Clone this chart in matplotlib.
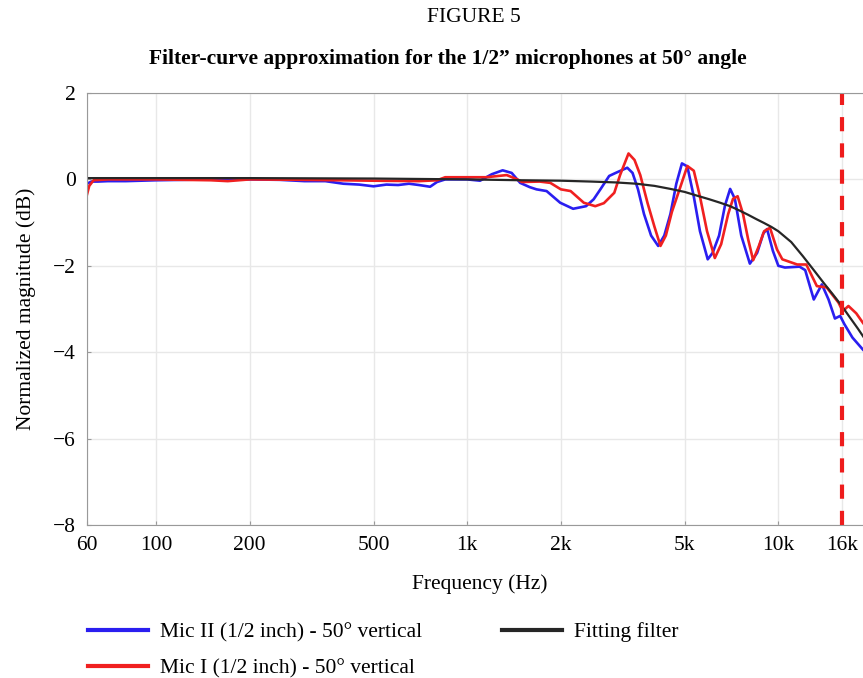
import matplotlib
matplotlib.use("Agg")
import matplotlib.pyplot as plt

plt.rcParams['font.family'] = ['Liberation Serif', 'DejaVu Serif']
plt.rcParams['font.size'] = 15.5

# measured response, Mic II (1/2 inch), 50 deg vertical
blue_f = [60, 62, 65, 70, 80, 100, 150, 200, 250, 300, 350, 400, 450, 500, 550,
          600, 650, 700, 760, 800, 850, 1000, 1100, 1200, 1300, 1390, 1480, 1590,
          1670, 1800, 1990, 2190, 2410, 2550, 2680, 2860, 3000, 3270, 3400, 3540,
          3700, 3900, 4110, 4300, 4500, 4700, 4900, 5100, 5350, 5600, 5930, 6150,
          6450, 6740, 7000, 7250, 7600, 8100, 8550, 8950, 9200, 9600, 10000, 10500,
          11700, 12200, 13000, 13800, 14500, 15200, 15800, 16300, 17300, 18700, 20000]
blue_db = [-0.10, -0.05, -0.05, -0.04, -0.04, -0.02, 0.0, 0.0, -0.01, -0.04, -0.04,
           -0.10, -0.12, -0.16, -0.12, -0.13, -0.10, -0.13, -0.17, -0.06, 0.0, 0.0,
           -0.03, 0.12, 0.21, 0.15, -0.08, -0.18, -0.23, -0.27, -0.54, -0.68, -0.62,
           -0.46, -0.23, 0.08, 0.15, 0.27, 0.15, -0.23, -0.80, -1.30, -1.54, -1.30,
           -0.80, -0.10, 0.37, 0.30, -0.40, -1.20, -1.85, -1.70, -1.30, -0.60, -0.22,
           -0.45, -1.30, -1.95, -1.70, -1.25, -1.15, -1.65, -2.00, -2.04, -2.02, -2.10,
           -2.78, -2.43, -2.78, -3.22, -3.16, -3.35, -3.66, -3.94, -4.15]

# measured response, Mic I (1/2 inch), 50 deg vertical
red_f = [60, 61, 63, 70, 100, 150, 170, 200, 300, 500, 700, 800, 850, 1000, 1150,
         1340, 1450, 1500, 1710, 1850, 2000, 2150, 2370, 2580, 2750, 2970, 3100,
         3300, 3450, 3600, 3800, 4000, 4180, 4350, 4550, 4830, 5100, 5350, 5600,
         5900, 6250, 6550, 6900, 7150, 7400, 7700, 8000, 8300, 8650, 9000, 9400,
         9900, 10300, 11500, 12300, 13300, 14300, 15600, 16100, 16800, 17800, 18700,
         20000]
red_db = [-0.35, -0.15, -0.02, 0.0, 0.0, -0.02, -0.04, 0.0, -0.01, -0.03, -0.04,
          -0.02, 0.05, 0.05, 0.05, 0.10, 0.0, -0.06, -0.05, -0.08, -0.23, -0.27,
          -0.54, -0.62, -0.55, -0.31, 0.10, 0.60, 0.45, 0.10, -0.55, -1.10, -1.54,
          -1.30, -0.75, -0.20, 0.31, 0.20, -0.40, -1.20, -1.82, -1.50, -0.80, -0.45,
          -0.39, -0.80, -1.39, -1.87, -1.55, -1.20, -1.12, -1.62, -1.85, -1.97, -1.97,
          -2.47, -2.50, -2.85, -3.05, -2.93, -3.10, -3.32, -3.60]

# fitted low-pass filter
fit_f = [60, 100, 200, 500, 1000, 1500, 2000, 2500, 3000, 3500, 4000, 4500, 5000,
         5500, 6000, 6500, 7000, 7500, 8000, 8500, 9000, 9500, 10000, 11000, 12000,
         13000, 14000, 15000, 16000, 17000, 18000, 19000, 20000]
fit_db = [0.03, 0.03, 0.03, 0.02, 0.0, -0.02, -0.03, -0.05, -0.07, -0.10, -0.15,
          -0.22, -0.29, -0.38, -0.46, -0.54, -0.62, -0.72, -0.82, -0.92, -1.01,
          -1.10, -1.20, -1.45, -1.78, -2.10, -2.40, -2.67, -2.93, -3.20, -3.45,
          -3.70, -3.95]

cutoff = 16000

xticks = [60, 100, 200, 500, 1000, 2000, 5000, 10000, 16000]
xtick_labels = ['60', '100', '200', '500', '1k', '2k', '5k', '10k', '16k']
yticks = [-8, -6, -4, -2, 0, 2]

fig = plt.figure(figsize=(8.63, 6.78), dpi=100)
ax = fig.add_axes([87 / 863, 153 / 678, 785 / 863, 432 / 678])

ax.plot(blue_f, blue_db, color='#2a1ef0', lw=1.9, label='Mic II (1/2 inch) - 50° vertical')
ax.plot(red_f, red_db, color='#f02020', lw=1.9, label='Mic I (1/2 inch) - 50° vertical')
ax.plot(fit_f, fit_db, color='#262626', lw=1.6, label='Fitting filter')
ax.axvline(cutoff, color='#ee1c1c', lw=3, dashes=(3.4, 2.9))

ax.set_xscale('log')
ax.set_xlim(60, 20000)
ax.set_ylim(-8, 2)
ax.set_xticks(xticks)
ax.set_xticklabels(xtick_labels)
ax.minorticks_off()
ax.set_yticks(yticks)

ax.grid(True, color='#e8e8e8', lw=1)
ax.set_axisbelow(True)
ax.tick_params(direction='in', length=3, color='#999999', pad=8)
for side in ['left', 'bottom', 'top']:
    ax.spines[side].set_color('#999999')
ax.spines['right'].set_visible(False)

ax.set_xlabel('Frequency (Hz)', labelpad=14)
ax.set_ylabel('Normalized magnitude (dB)', labelpad=12)

fig.text(0.549, 1 - 17 / 678, 'FIGURE 5', ha='center', va='center')
fig.text(0.5186, 1 - 59 / 678,
         'Filter-curve approximation for the 1/2\u201d microphones at 50° angle',
         ha='center', va='center', fontweight='bold')

leg = fig.legend(loc='upper left', bbox_to_anchor=(88 / 863, 1 - 622 / 678),
                 ncol=2, frameon=False, borderpad=0, borderaxespad=0,
                 handlelength=2.8, handletextpad=0.55, columnspacing=3.7,
                 labelspacing=0.75)
for line in leg.get_lines():
    line.set_linewidth(3)

fig.savefig('out.png', dpi=100, facecolor='white')
